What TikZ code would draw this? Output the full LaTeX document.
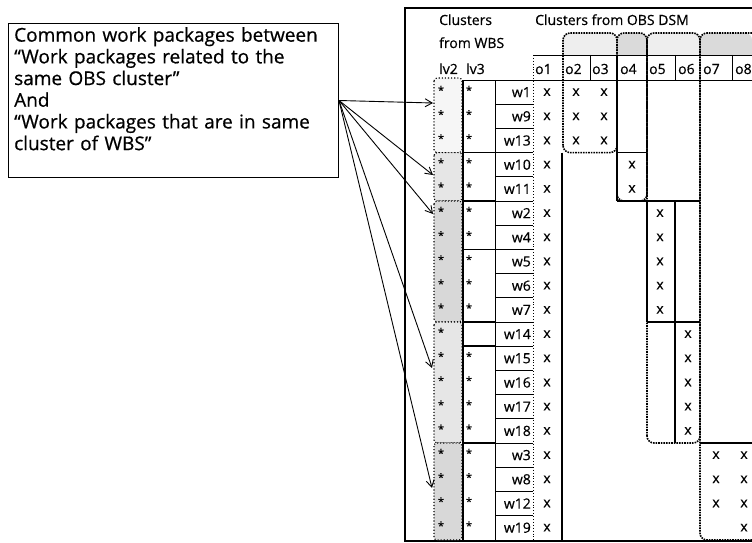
\documentclass[tikz,border=0pt]{standalone}
\usepackage{fontspec}
\setmainfont{Open Sans}[FakeBold=0.6]
\usetikzlibrary{arrows.meta}

\definecolor{tabA}{HTML}{EEEEEE}
\definecolor{tabB}{HTML}{DADADA}
\definecolor{grpA}{HTML}{F6F6F6}
\definecolor{grpB}{HTML}{E6E6E6}
\definecolor{grpC}{HTML}{D8D8D8}

\tikzset{
  lbl/.style={font=\fontsize{14}{16}\selectfont, inner sep=0pt},
  xmk/.style={font=\fontsize{14}{15}\selectfont, inner sep=0pt},
  astk/.style={font=\fontsize{11}{12}\selectfont, inner sep=0pt},
  thin grid/.style={line width=0.8pt},
  heavy/.style={line width=1.5pt},
  cluster/.style={densely dotted, line width=1.6pt, rounded corners=7pt},
  wbsbox/.style={dotted, line width=1.1pt, rounded corners=3pt},
  notebox/.style={draw, line width=1pt, inner sep=0pt,
    minimum width=330pt, minimum height=154pt},
  notetext/.style={inner sep=0pt, text width=320pt, align=left,
    font=\fontsize{19}{21.7}\selectfont},
  pointer/.style={line width=0.9pt, -{Straight Barb[length=7pt,width=8pt]}},
}

\begin{document}
\begin{tikzpicture}[x=1pt,y=-1pt]
\useasboundingbox (0,0) rectangle (752,543);

% ---- note box ----
\node[notebox, anchor=north west] (note) at (8,23) {};
\node[notetext, anchor=north west] (notetext) at (14,27)
  {Common work packages between\\
   “Work packages related to the\\
   same OBS cluster”\\
   And\\
   “Work packages that are in same\\
   cluster of WBS”};

% ---- outer frame ----
\draw[line width=1.3pt] (752,8) -- (405,8) -- (405,541) -- (752,541);

% ---- OBS cluster tabs (fill) ----
\fill[tabA, rounded corners=7pt] (563,55) -- (563,33) -- (617,33) -- (617,55);
\fill[tabB, rounded corners=7pt] (617,55) -- (617,33) -- (647,33) -- (647,55);
\fill[tabA, rounded corners=7pt] (647,55) -- (647,33) -- (700,33) -- (700,55);
\fill[tabB, rounded corners=7pt] (752,55) -- (752,33) -- (700,33) -- (700,55);

% ---- WBS lv2 groups ----
\draw[wbsbox, fill=grpA] (434,78) rectangle (462,152.6);
\draw[wbsbox, fill=grpB] (434,152.6) rectangle (462,201);
\draw[wbsbox, fill=grpC] (434,201) rectangle (462,322);
\draw[wbsbox, fill=grpB] (434,322) rectangle (462,443);
\draw[wbsbox, fill=grpC] (434,443) rectangle (462,540);

% ---- table grid ----
\draw[thin grid] (533,55) -- (752,55);
\draw[thin grid] (463,80) -- (752,80);
\draw[thin grid] (590,55) -- (590,80);
\draw[thin grid] (675,55) -- (675,80);
\draw[thin grid] (732,55) -- (732,80);
\draw[dotted, line width=0.9pt] (533,55) -- (533,541);
\draw[heavy] (463,80) -- (463,541);
\draw[thin grid] (495,80) -- (495,541);
\foreach \k in {1,...,18}
  \draw[thin grid] (495,{80+24.2*\k}) -- (533,{80+24.2*\k});
\foreach \k in {3,5,7,10,11,15}
  \draw[heavy] (463,{80+24.2*\k}) -- (495,{80+24.2*\k});

% ---- OBS cluster outlines ----
\draw[cluster] (563,152.6) -- (563,33) -- (617,33) -- (617,152.6) -- cycle;
\draw[cluster] (617,201) -- (617,33) -- (647,33) -- (647,201) -- cycle;
\draw[cluster] (647,443) -- (647,33) -- (700,33) -- (700,443) -- cycle;
\draw[cluster] (752,33) -- (700,33) -- (700,540) -- (752,540);

% ---- block staircase ----
\draw[heavy] (562,152.6) -- (562,541);
\draw[heavy] (617,55) -- (617,201);
\draw[heavy] (617,152.6) -- (647,152.6);
\draw[heavy] (617,201) -- (700,201);
\draw[heavy] (647,201) -- (647,322);
\draw[heavy] (647,322) -- (700,322);
\draw[heavy] (675,201) -- (675,443);
\draw[heavy] (700,443) -- (752,443);

% ---- header text ----
\node[lbl, anchor=base west] (hw1) at (439,25) {Clusters};
\node[lbl, anchor=base west] (hw2) at (439,48) {from WBS};
\node[lbl, anchor=base west] (hl2) at (439,74) {lv2};
\node[lbl, anchor=base west] (hl3) at (466,74) {lv3};
\node[lbl, anchor=base west] (ho) at (535,25) {Clusters from OBS DSM};
\foreach \c/\xl in {1/535,2/565,3/592,4/620,5/649,6/678,7/703,8/735}
  \node[lbl, anchor=base west] (oh\c) at (\xl,74) {o\c};

% ---- rows ----
\foreach \w [count=\i from 0] in {w1,w9,w13,w10,w11,w2,w4,w5,w6,w7,w14,w15,w16,w17,w18,w3,w8,w12,w19}{
  \pgfmathsetmacro\yc{80+24.2*(\i+0.5)}
  \node[lbl, anchor=east] (r\i) at (531,\yc) {\w};
  \node[xmk] (xa\i) at (547,\yc) {x};
  \node[astk] (sa\i) at (441,\yc-2) {*};
  \ifnum\i=10\relax\else
    \node[astk] (sb\i) at (469,\yc-2) {*};
  \fi
}

% ---- x marks inside the OBS blocks ----
\foreach \i/\xc/\n in {0/576/a,0/604/b,1/576/a,1/604/b,2/576/a,2/604/b,
                       3/632/c,4/632/c,
                       5/660/d,6/660/d,7/660/d,8/660/d,9/660/d,
                       10/688/e,11/688/e,12/688/e,13/688/e,14/688/e,
                       15/716/f,15/744/g,16/716/f,16/744/g,17/716/f,17/744/g,18/744/g}
  \node[xmk] (xb\n\i) at (\xc,{80+24.2*(\i+0.5)}) {x};

% ---- pointers ----
\coordinate (t1) at (433,103);
\coordinate (t2) at (433,175);
\coordinate (t3) at (433,214);
\coordinate (t4) at (432,368);
\coordinate (t5) at (432,488);
\foreach \t in {t1,t2,t3,t4,t5}
  \draw[pointer] (note.east) -- (\t);
\end{tikzpicture}
\end{document}
